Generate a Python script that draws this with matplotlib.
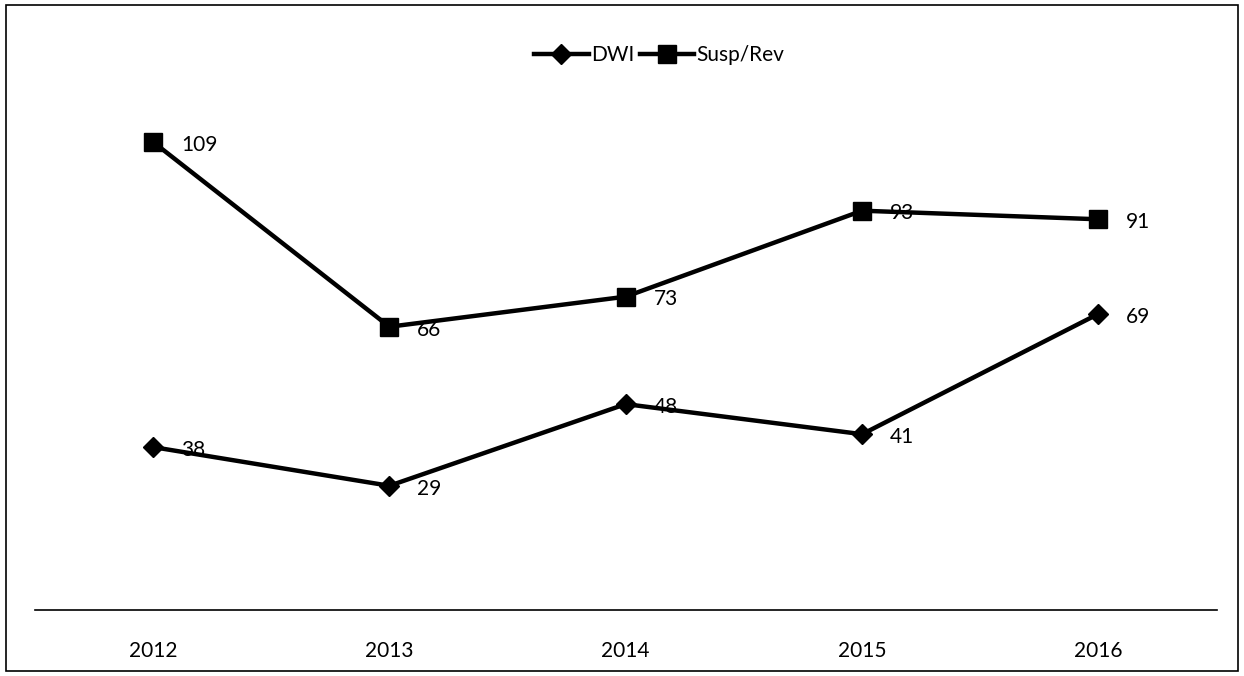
import matplotlib.pyplot as plt
from matplotlib.patches import Rectangle

plt.rcParams['font.family'] = ['Lato', 'DejaVu Sans']

years = ['2012', '2013', '2014', '2015', '2016']
dwi = [38, 29, 48, 41, 69]
susp_rev = [109, 66, 73, 93, 91]

fig = plt.figure(figsize=(12.44, 6.76), dpi=100)
ax = fig.add_axes([0.028, 0.097, 0.95, 0.763])

x = range(len(years))
ax.plot(x, dwi, color='black', lw=3.2, marker='D', ms=10, label='DWI')
ax.plot(x, susp_rev, color='black', lw=3.2, marker='s', ms=13, label='Susp/Rev')

for xi, v in zip(x, dwi):
    ax.annotate(str(v), (xi, v), xytext=(20, -2), textcoords='offset points',
                ha='left', va='center', fontsize=15)
for xi, v in zip(x, susp_rev):
    ax.annotate(str(v), (xi, v), xytext=(20, -2), textcoords='offset points',
                ha='left', va='center', fontsize=15)

ax.set_xlim(-0.5, len(years) - 0.5)
ax.set_ylim(0, 120)
ax.set_xticks(list(x))
ax.set_xticklabels(years, fontsize=15)
ax.tick_params(axis='x', length=0, pad=22)
ax.set_yticks([])
for side in ['top', 'right', 'left']:
    ax.spines[side].set_visible(False)
ax.spines['bottom'].set_linewidth(1.2)

fig.legend(loc='center', bbox_to_anchor=(0.53, 0.918), ncol=2, frameon=False,
           fontsize=15, handlelength=2.6, handletextpad=0.1, columnspacing=0.3)

# thin border round the whole chart
fig.patches.append(Rectangle((0.005, 0.008), 0.99, 0.985, transform=fig.transFigure,
                             fill=False, edgecolor='black', lw=1.2))

fig.savefig('out.png', dpi=100)
